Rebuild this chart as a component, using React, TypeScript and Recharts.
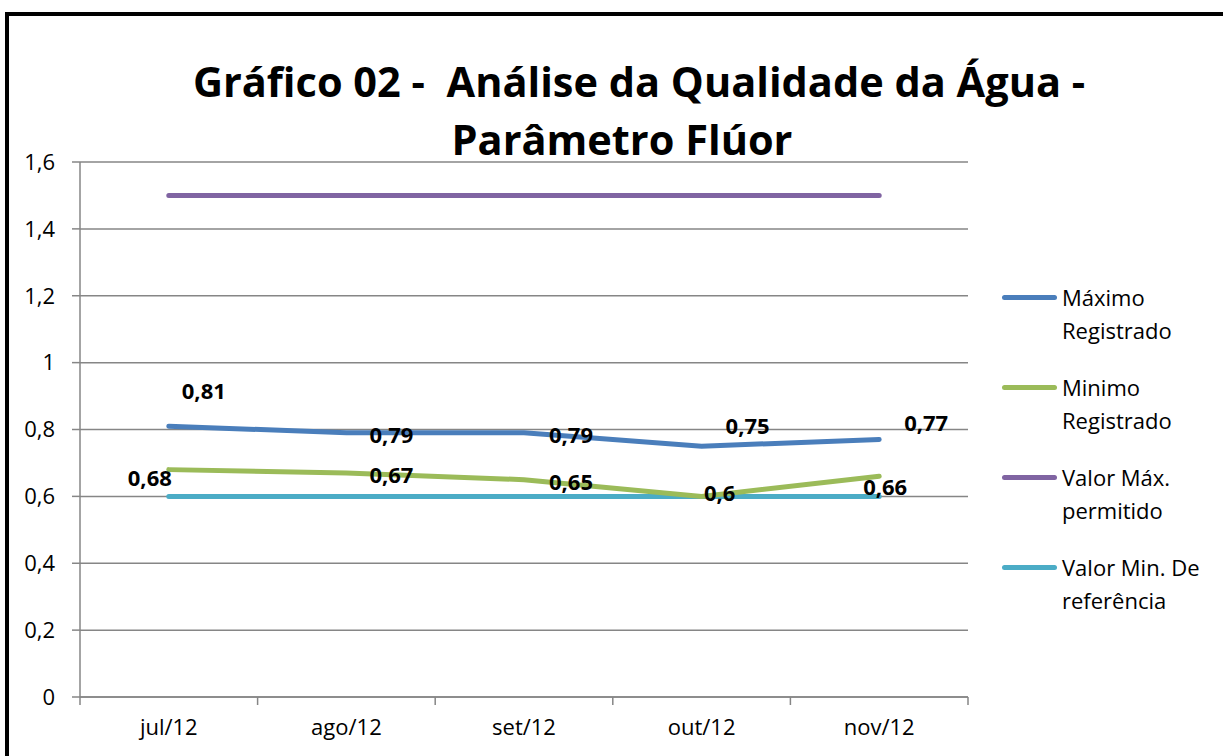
import React from "react";
import { LineChart, Line, XAxis, YAxis, CartesianGrid, LabelList } from "recharts";

const categories = ["jul/12", "ago/12", "set/12", "out/12", "nov/12"];
const maximoRegistrado = [0.81, 0.79, 0.79, 0.75, 0.77];
const minimoRegistrado = [0.68, 0.67, 0.65, 0.6, 0.66];
const valorMaxPermitido = [1.5, 1.5, 1.5, 1.5, 1.5];
const valorMinReferencia = [0.6, 0.6, 0.6, 0.6, 0.6];
const yTicks = [0, 0.2, 0.4, 0.6, 0.8, 1, 1.2, 1.4, 1.6];

const data = categories.map((c, i) => ({
  mes: c,
  max: maximoRegistrado[i],
  min: minimoRegistrado[i],
  maxPerm: valorMaxPermitido[i],
  minRef: valorMinReferencia[i],
}));

// layout (pixels)
const W = 1223;
const H = 756;
const PLOT_LEFT = 80;
const PLOT_RIGHT = 968;
const PLOT_TOP = 162;
const PLOT_BOTTOM = 697;
const BAND = (PLOT_RIGHT - PLOT_LEFT) / categories.length;
const FONT = "'Open Sans', Lato, sans-serif";

// where Excel put each data label, relative to its point
const maxLabelOffsets = [[35, -36], [45, 1], [47, 1], [46, -21], [47, -18]];
const minLabelOffsets = [[-19, 7], [45, 1], [47, 1], [18, -4], [6, 10]];

const fmt = (v: number) => String(v).replace(".", ",");

const makeLabel = (offsets: number[][]) => (props: any) => {
  const { x, y, value, index } = props;
  const [dx, dy] = offsets[index] || [0, 0];
  return (
    <text
      x={x + dx}
      y={y + dy}
      textAnchor="middle"
      dominantBaseline="central"
      fontFamily={FONT}
      fontWeight="bold"
      fontSize={22}
      fill="#000"
    >
      {fmt(value)}
    </text>
  );
};

const XTick = (props: any) => {
  const { x, payload, index } = props;
  return (
    <g>
      <line x1={x - BAND / 2} x2={x - BAND / 2} y1={PLOT_BOTTOM} y2={PLOT_BOTTOM + 8} stroke="#868686" strokeWidth={1.5} />
      {index === categories.length - 1 && (
        <line x1={x + BAND / 2} x2={x + BAND / 2} y1={PLOT_BOTTOM} y2={PLOT_BOTTOM + 8} stroke="#868686" strokeWidth={1.5} />
      )}
      <text x={x} y={PLOT_BOTTOM + 29} textAnchor="middle" dominantBaseline="central" fontFamily={FONT} fontSize={22} fill="#000">
        {payload.value}
      </text>
    </g>
  );
};

const legendItems = [
  { color: "#4a7ebb", lines: ["Máximo", "Registrado"] },
  { color: "#9bbb59", lines: ["Minimo", "Registrado"] },
  { color: "#8064a2", lines: ["Valor Máx.", "permitido"] },
  { color: "#4bacc6", lines: ["Valor Min. De", "referência"] },
];

const ChartLegend = () => (
  <div style={{ position: "absolute", left: 1002, top: 281, fontFamily: FONT, fontSize: 22, color: "#000" }}>
    {legendItems.map((it) => (
      <div key={it.color} style={{ display: "flex", alignItems: "flex-start", height: 90 }}>
        <div style={{ width: 55, height: 5, borderRadius: 3, background: it.color, marginTop: 14, marginRight: 5 }} />
        <div style={{ lineHeight: "33px", whiteSpace: "nowrap" }}>
          {it.lines.map((l) => (
            <div key={l}>{l}</div>
          ))}
        </div>
      </div>
    ))}
  </div>
);

export default function App() {
  return (
    <div style={{ position: "absolute", left: 0, top: 0, width: W, height: H, background: "#fff", overflow: "hidden" }}>
      <div
        style={{
          position: "absolute",
          left: 5,
          top: 12,
          width: W + 20,
          height: H + 20,
          borderLeft: "4px solid #000",
          borderTop: "4px solid #000",
        }}
      />
      <div style={{ position: "absolute", left: 0, width: 1278, top: 52, textAlign: "center", fontFamily: FONT, fontWeight: "bold", fontSize: 41.5, lineHeight: "58px" }}>
        Gráfico 02 -&nbsp; Análise da Qualidade da Água -
      </div>
      <div style={{ position: "absolute", left: 0, width: 1244, top: 110, textAlign: "center", fontFamily: FONT, fontWeight: "bold", fontSize: 41.5, lineHeight: "58px" }}>
        Parâmetro Flúor
      </div>
      <LineChart
        width={W}
        height={H}
        data={data}
        margin={{ top: PLOT_TOP, right: W - PLOT_RIGHT, bottom: H - PLOT_BOTTOM - 40, left: PLOT_LEFT - 60 }}
      >
        <CartesianGrid vertical={false} stroke="#868686" strokeWidth={1.5} />
        <XAxis
          dataKey="mes"
          scale="band"
          height={40}
          tickLine={false}
          axisLine={{ stroke: "#868686", strokeWidth: 1.5 }}
          tick={<XTick />}
          interval={0}
        />
        <YAxis
          width={60}
          domain={[0, 1.6]}
          ticks={yTicks}
          tickFormatter={fmt}
          tickSize={8}
          tickMargin={17}
          tickLine={{ stroke: "#868686", strokeWidth: 1.5 }}
          axisLine={{ stroke: "#868686", strokeWidth: 1.5 }}
          tick={{ fill: "#000", fontSize: 22, fontFamily: FONT }}
        />
        <Line type="linear" dataKey="maxPerm" name="Valor Máx. permitido" stroke="#8064a2" strokeWidth={5} strokeLinecap="round" dot={false} isAnimationActive={false} />
        <Line type="linear" dataKey="minRef" name="Valor Min. De referência" stroke="#4bacc6" strokeWidth={5} strokeLinecap="round" dot={false} isAnimationActive={false} />
        <Line type="linear" dataKey="min" name="Minimo Registrado" stroke="#9bbb59" strokeWidth={5} strokeLinecap="round" dot={false} isAnimationActive={false}>
          <LabelList dataKey="min" content={makeLabel(minLabelOffsets)} />
        </Line>
        <Line type="linear" dataKey="max" name="Máximo Registrado" stroke="#4a7ebb" strokeWidth={5} strokeLinecap="round" dot={false} isAnimationActive={false}>
          <LabelList dataKey="max" content={makeLabel(maxLabelOffsets)} />
        </Line>
      </LineChart>
      <ChartLegend />
    </div>
  );
}
